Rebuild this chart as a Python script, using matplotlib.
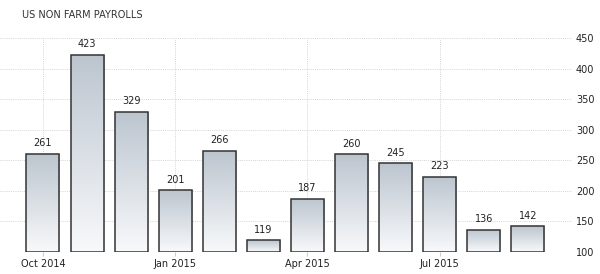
import numpy as np
import matplotlib
matplotlib.use("Agg")
import matplotlib.pyplot as plt
from matplotlib.colors import LinearSegmentedColormap

values = [261, 423, 329, 201, 266, 119, 187, 260, 245, 223, 136, 142]
tick_pos = [0, 3, 6, 9]
tick_labels = ["Oct 2014", "Jan 2015", "Apr 2015", "Jul 2015"]
yticks = [100, 150, 200, 250, 300, 350, 400, 450]
title = "US NON FARM PAYROLLS"

fig = plt.figure(figsize=(6, 2.74), dpi=100)
ax = fig.add_axes([0.0, 0.0803, 0.953, 0.781])

ymin, ymax = 100, 450

cmap = LinearSegmentedColormap.from_list("g", ["#f8f9fb", "#bcc5cf"])
grad = np.linspace(0, 1, 256).reshape(-1, 1)

x = np.arange(len(values))
bars = ax.bar(x, np.array(values) - ymin, bottom=ymin, width=0.75,
              facecolor="none", edgecolor="#333333", linewidth=1.1, zorder=3)
for b, v in zip(bars, values):
    b.set_joinstyle("miter")
    x0 = b.get_x()
    im = ax.imshow(grad, cmap=cmap, aspect="auto", origin="lower",
                   extent=[x0, x0 + b.get_width(), ymin, v], zorder=2)
    im.set_clip_path(b)
    ax.text(b.get_x() + b.get_width() / 2, v + 9, str(v), ha="center",
            va="bottom", fontsize=7, color="#222222")

ax.set_xlim(-0.975, 12.0)
ax.set_ylim(ymin, ymax)

for y in yticks:
    ax.axhline(y, color="#d4d4d4", lw=0.7, ls=(0, (1, 1.2)), zorder=1)
for t in tick_pos:
    ax.axvline(t, color="#d4d4d4", lw=0.7, ls=(0, (1, 1.2)), zorder=1)

ax.set_xticks(tick_pos)
ax.set_xticklabels(tick_labels, fontsize=7, color="#222222")
ax.tick_params(axis="x", length=3, color="#cccccc", pad=2)
ax.yaxis.tick_right()
ax.set_yticks(yticks)
ax.set_yticklabels([str(v) for v in yticks], fontsize=7, color="#222222")
ax.tick_params(axis="y", length=0, pad=3)
for s in ax.spines.values():
    s.set_visible(False)

fig.text(22 / 600, 1 - 15 / 274, title, fontsize=7, color="#333333",
         va="center", ha="left")

fig.savefig("out.png", dpi=100)
